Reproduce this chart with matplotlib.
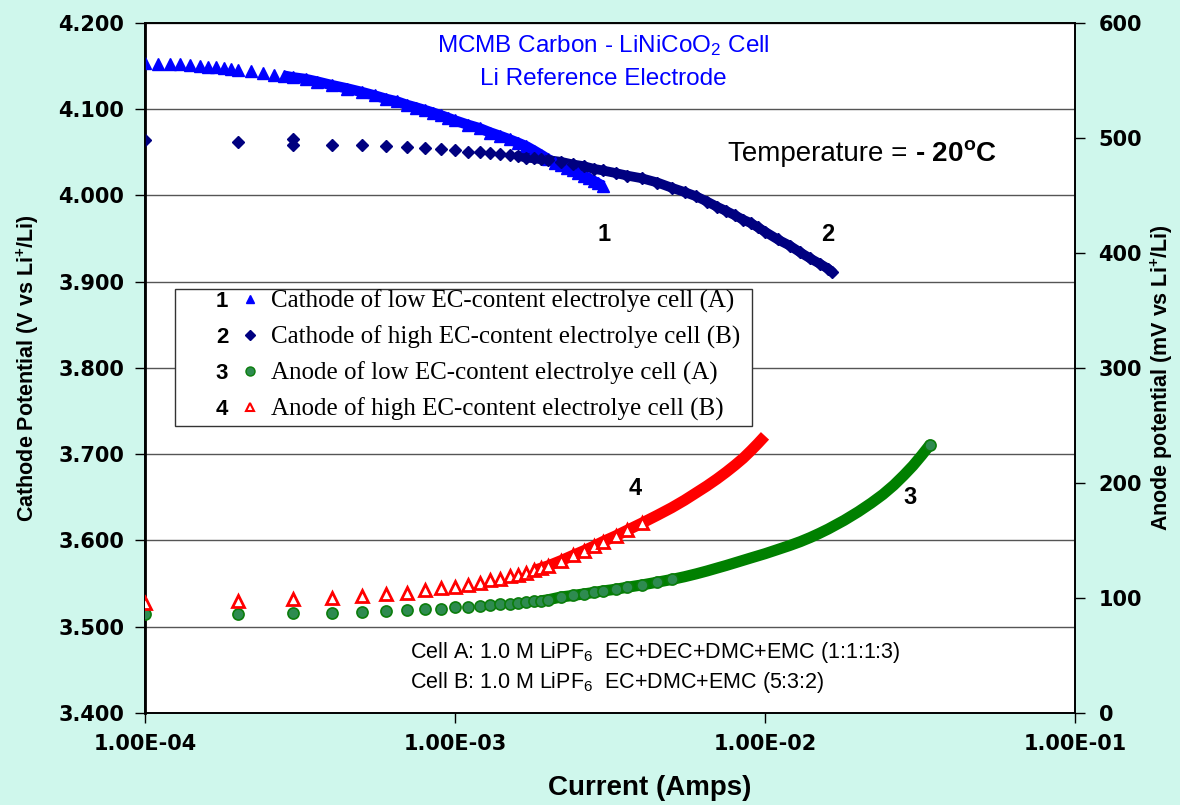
import numpy as np
import matplotlib
matplotlib.use("Agg")
import matplotlib.pyplot as plt
from matplotlib.lines import Line2D
from matplotlib.patches import Rectangle
from matplotlib.ticker import FixedLocator, FuncFormatter, NullLocator

plt.rcParams['font.family'] = 'Liberation Sans'
plt.rcParams['mathtext.fontset'] = 'custom'
plt.rcParams['mathtext.rm'] = 'Liberation Sans'
plt.rcParams['mathtext.it'] = 'Liberation Sans:italic'
plt.rcParams['mathtext.bf'] = 'Liberation Sans:bold'

# ---- data (current in units of 1e-4 A) ----
# 1: cathode, low EC-content cell (A)  [V vs Li+/Li]
cur_cath_a = [1.0, 1.1, 1.2, 1.3, 1.4, 1.5, 1.6, 1.7, 1.8, 1.9, 2.0, 2.2, 2.4, 2.6, 2.8,
              3.0, 3.3, 3.6, 4.0, 4.5, 5.0, 5.5, 6.0, 6.5, 7.0, 7.5, 8.0, 8.5, 9.0, 9.5,
              10, 11, 12, 13, 14, 15, 16, 17, 18, 19, 20, 21, 22, 23, 24, 25, 26, 27,
              28, 29, 30]
v_cath_a = [4.154, 4.153, 4.152, 4.152, 4.151, 4.150, 4.149, 4.149, 4.148, 4.147, 4.146,
            4.144, 4.142, 4.140, 4.139, 4.137, 4.135, 4.132, 4.128, 4.124, 4.120, 4.116,
            4.112, 4.109, 4.105, 4.102, 4.099, 4.096, 4.093, 4.090, 4.087, 4.082, 4.078,
            4.073, 4.069, 4.065, 4.061, 4.057, 4.052, 4.047, 4.042, 4.038, 4.035, 4.032,
            4.029, 4.026, 4.023, 4.020, 4.017, 4.014, 4.011]

# 2: cathode, high EC-content cell (B)
cur_cath_b = [1, 2, 3, 3, 4, 5, 6, 7, 8, 9, 10, 11, 12, 13, 14, 15, 16, 17, 18, 19, 20,
              22, 24, 26, 28, 30, 33, 36, 40, 45, 50, 55, 60, 65, 70, 75, 80, 85, 90, 95,
              100, 110, 120, 130, 140, 150, 160, 165]
v_cath_b = [4.064, 4.062, 4.065, 4.059, 4.059, 4.058, 4.057, 4.056, 4.055, 4.054, 4.053,
            4.051, 4.050, 4.049, 4.048, 4.047, 4.046, 4.044, 4.043, 4.042, 4.041, 4.039,
            4.036, 4.034, 4.031, 4.029, 4.026, 4.023, 4.020, 4.015, 4.009, 4.004, 3.999,
            3.993, 3.987, 3.982, 3.977, 3.972, 3.968, 3.963, 3.958, 3.949, 3.942, 3.934,
            3.927, 3.921, 3.915, 3.911]

# 3: anode, low EC-content cell (A)  [mV vs Li+/Li]
cur_an_a = [1, 2, 3, 4, 5, 6, 7, 8, 9, 10, 11, 12, 13, 14, 15, 16, 17, 18, 19, 20, 22, 24,
            26, 28, 30, 33, 36, 40, 45, 50, 55, 60, 65, 70, 75, 80, 90, 100, 110, 120, 130,
            140, 150, 160, 180, 200, 220, 240, 260, 280, 300, 320, 340]
mv_an_a = [85.8, 86.1, 86.7, 87.2, 87.6, 88.4, 89.3, 90.2, 90.7, 91.9, 92.4, 93.0, 93.7,
           94.5, 94.8, 95.4, 96.2, 97.0, 97.6, 98.5, 100.9, 102.2, 103.5, 104.8, 106.1,
           107.6, 109.4, 111.3, 113.8, 116.1, 118.5, 121.0, 123.5, 126.0, 128.3, 130.6,
           134.8, 138.5, 142.2, 145.6, 149.0, 152.6, 156.3, 160.0, 167.5, 175.0, 182.5,
           190.0, 198.0, 206.5, 215.0, 224.0, 233.0]

# 4: anode, high EC-content cell (B)
cur_an_b = [1, 2, 3, 4, 5, 6, 7, 8, 9, 10, 11, 12, 13, 14, 15, 16, 17, 18, 19, 20, 22, 24,
            26, 28, 30, 33, 36, 40, 45, 50, 55, 60, 65, 70, 75, 80, 85, 90, 95, 100]
mv_an_b = [95.4, 97.4, 98.9, 100.0, 101.5, 103.2, 104.6, 106.7, 108.4, 109.8, 111.3, 113.3,
           115.4, 116.8, 118.9, 120.3, 122.0, 124.0, 126.0, 128.0, 132.5, 137.0, 141.0,
           145.0, 149.0, 154.0, 159.0, 165.0, 172.0, 178.5, 185.0, 191.5, 197.5, 203.5,
           209.5, 215.5, 221.5, 228.0, 234.5, 241.0]

labels = ["Cathode of low EC-content electrolye cell (A)",
          "Cathode of high EC-content electrolye cell (B)",
          "Anode of low EC-content electrolye cell (A)",
          "Anode of high EC-content electrolye cell (B)"]
y_ticks_left = [3.4, 3.5, 3.6, 3.7, 3.8, 3.9, 4.0, 4.1, 4.2]
y_ticks_right = [0, 100, 200, 300, 400, 500, 600]
x_ticks = [1e-4, 1e-3, 1e-2, 1e-1]

BLUE = "#0000ff"
NAVY = "#000080"
GREEN = "#008000"
RED = "#ff0000"

fig = plt.figure(figsize=(11.8, 8.05), dpi=100, facecolor="#cff7ec")
ax = fig.add_axes([145/1180, 92/805, 930/1180, 690/805])
ax2 = ax.twinx()

ia = np.array(cur_cath_a) * 1e-4
ib = np.array(cur_cath_b) * 1e-4
ga = np.array(cur_an_a) * 1e-4
gb = np.array(cur_an_b) * 1e-4

# dense parts of each sweep merge into a solid band
ax.plot(ia[14:], v_cath_a[14:], "-", color=BLUE, lw=7.5, solid_capstyle="butt", zorder=2)
ax.plot(ia, v_cath_a, ls="none", marker="^", ms=8.5, color=BLUE, zorder=3)
ax.plot(ib[16:], v_cath_b[16:], "-", color=NAVY, lw=7, solid_capstyle="round", zorder=2)
ax.plot(ib, v_cath_b, ls="none", marker="D", ms=6.5, color=NAVY, zorder=3)

ax2.plot(ga[18:], mv_an_a[18:], "-", color=GREEN, lw=8, solid_capstyle="round", zorder=2)
ax2.plot(ga[:30], mv_an_a[:30], ls="none", marker="o", ms=8, mfc="#2e8b50", mec="#0b7d0b",
         mew=1.2, zorder=3)
ax2.plot(ga[-1:], mv_an_a[-1:], ls="none", marker="o", ms=8, mfc="#2e8b50", mec="#0b7d0b",
         mew=1.2, zorder=3)
ax2.plot(gb[17:], mv_an_b[17:], "-", color=RED, lw=8, solid_capstyle="butt", zorder=2)
ax2.plot(gb[:28], mv_an_b[:28], ls="none", marker="^", ms=8, mfc="white", mec=RED, mew=2,
         zorder=3)

ax.set_xscale("log")
ax.set_xlim(1e-4, 1e-1)
ax.set_ylim(3.4, 4.2)
ax2.set_ylim(0, 600)
ax.set_facecolor("white")

ax.xaxis.set_major_locator(FixedLocator(x_ticks))
ax.xaxis.set_minor_locator(NullLocator())
ax.xaxis.set_major_formatter(FuncFormatter(lambda v, p: f"{v:.2E}"))
ax.yaxis.set_major_locator(FixedLocator(y_ticks_left))
ax.yaxis.set_major_formatter(FuncFormatter(lambda v, p: f"{v:.3f}"))
ax2.yaxis.set_major_locator(FixedLocator(y_ticks_right))
ax2.yaxis.set_major_formatter(FuncFormatter(lambda v, p: f"{v:.0f}"))

ax.yaxis.grid(True, color="#555555", lw=1.0)
ax.set_axisbelow(True)

for a in (ax, ax2):
    for s in a.spines.values():
        s.set_color("black")
        s.set_linewidth(1.2)
ax.spines["left"].set_linewidth(2)

ax.tick_params(axis="both", direction="out", length=7, width=1, pad=8,
               labelsize=15, labelfontfamily="DejaVu Sans")
ax2.tick_params(axis="y", direction="out", length=7, width=1, pad=10,
                labelsize=15, labelfontfamily="DejaVu Sans")
for lbl in ax.get_xticklabels() + ax.get_yticklabels() + ax2.get_yticklabels():
    lbl.set_fontweight("bold")

# axis titles
fig.text(28/1180, 1 - 368/805, r"Cathode Potential (V vs Li$^{\mathbf{+}}$/Li)", rotation=90,
         ha="center", va="center", fontsize=15.5, fontweight="bold")
fig.text(1162/1180, 1 - 378/805, r"Anode potential (mV vs Li$^{\mathbf{+}}$/Li)", rotation=90,
         ha="center", va="center", fontsize=15.5, fontweight="bold")
fig.text(650/1180, 1 - 788/805, "Current (Amps)", ha="center", va="center",
         fontsize=20, fontweight="bold")

# annotations
ax.text(0.4925, 0.9667, r"MCMB Carbon - LiNiCoO$_2$ Cell", transform=ax.transAxes,
        ha="center", va="center", fontsize=17.5, color=BLUE)
ax.text(0.4925, 0.9188, "Li Reference Electrode", transform=ax.transAxes,
        ha="center", va="center", fontsize=17.5, color=BLUE)
t_temp = ax.text(0.627, 0.800, "Temperature = ", transform=ax.transAxes,
                 ha="left", va="baseline", fontsize=20)
for s, x, y in [("1", 0.4935, 0.6928), ("2", 0.7344, 0.6928),
                ("4", 0.5269, 0.326), ("3", 0.8226, 0.3116)]:
    ax.text(x, y, s, transform=ax.transAxes, ha="center", va="center",
            fontsize=17, fontweight="bold")
ax.text(0.285, 0.0884, r"Cell A: 1.0 M LiPF$_6$  EC+DEC+DMC+EMC (1:1:1:3)",
        transform=ax.transAxes, ha="left", va="center", fontsize=15.5)
ax.text(0.285, 0.0435, r"Cell B: 1.0 M LiPF$_6$  EC+DMC+EMC (5:3:2)",
        transform=ax.transAxes, ha="left", va="center", fontsize=15.5)

# legend box
ax2.add_patch(Rectangle((0.0323, 0.416), 0.6204, 0.1985, transform=ax2.transAxes,
                        facecolor="white", edgecolor="#333333", lw=1.0, zorder=4))
handles = [Line2D([], [], ls="none", marker="^", ms=6, color=BLUE),
           Line2D([], [], ls="none", marker="D", ms=5, color=NAVY),
           Line2D([], [], ls="none", marker="o", ms=6.5, mfc="#2e8b50", mec="#0b7d0b"),
           Line2D([], [], ls="none", marker="^", ms=6, mfc="white", mec=RED, mew=1.5)]
leg = ax2.legend(handles, labels, loc="upper left", bbox_to_anchor=(0.1032, 0.613),
                 frameon=False, prop={"family": "Liberation Serif", "size": 18},
                 handlelength=0.7, handletextpad=0.5, labelspacing=0.5,
                 borderaxespad=0, borderpad=0)
leg.set_zorder(5)

fig.canvas.draw()
inv = fig.transFigure.inverted()
for i, t in enumerate(leg.get_texts()):
    bb = t.get_window_extent()
    yc = inv.transform(((bb.x0 + bb.x1) / 2, (bb.y0 + bb.y1) / 2))[1]
    fig.text(222/1180, yc, str(i + 1), ha="center", va="center",
             fontsize=16, fontweight="bold", zorder=6)

# bold part of the temperature note follows the regular part on the same baseline
bb = t_temp.get_window_extent()
x_end, y_base = ax.transAxes.inverted().transform((bb.x1, 0))[0], 0.800
ax.text(x_end, y_base, r"- 20$^{\mathbf{o}}$C", transform=ax.transAxes,
        ha="left", va="baseline", fontsize=20, fontweight="bold")

fig.savefig("out.png", dpi=100, facecolor=fig.get_facecolor())
